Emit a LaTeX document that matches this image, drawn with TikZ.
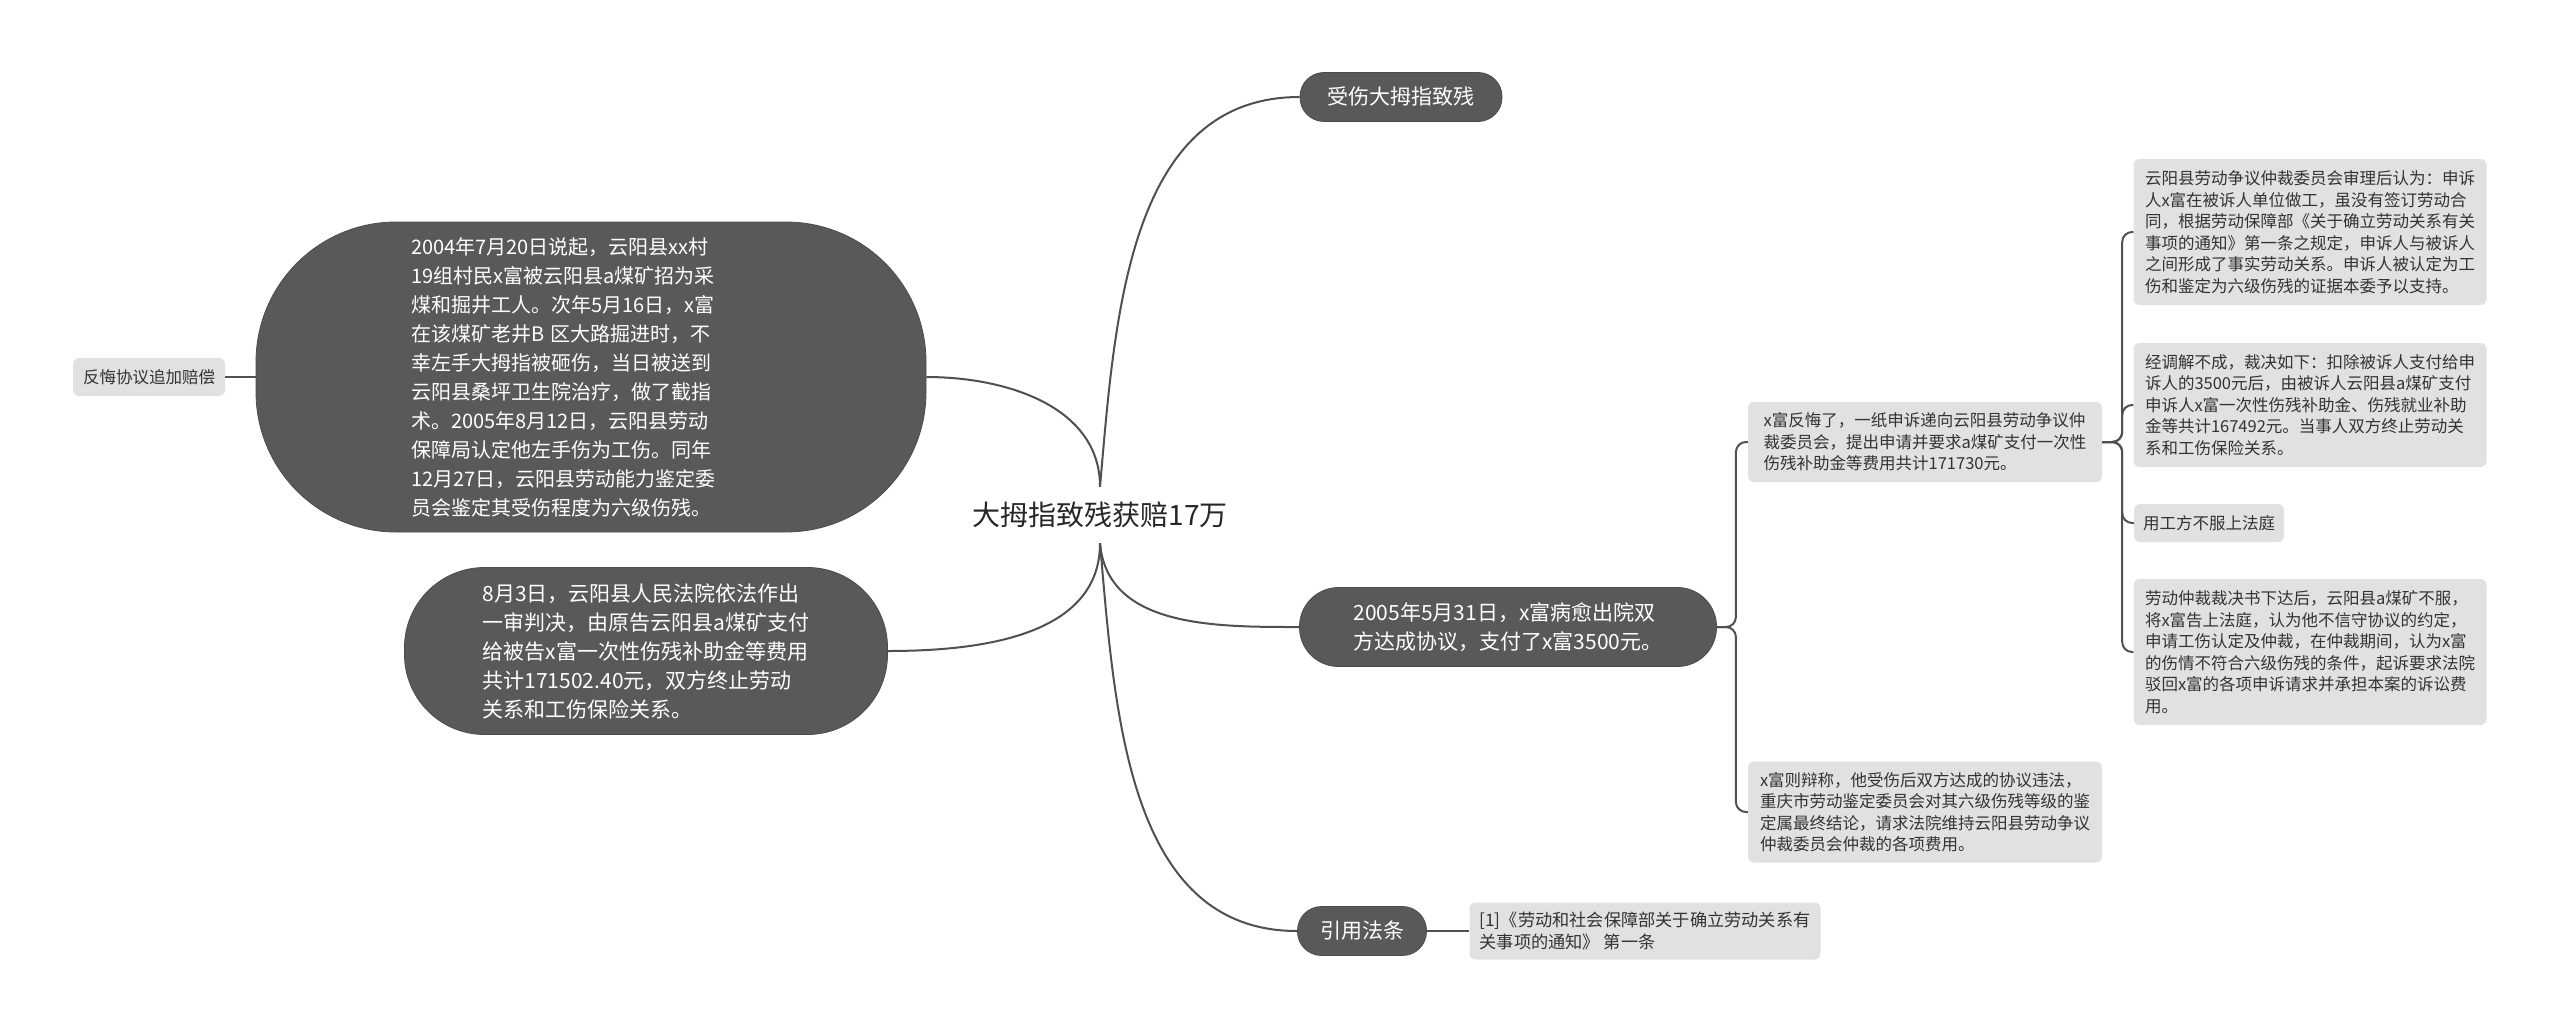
\documentclass[tikz,border=0pt]{standalone}
\usepackage{fontspec}
\setmainfont{Noto Sans CJK SC}
\usepackage{xcolor}
\usepackage{tikz}
\definecolor{darknode}{HTML}{595959}
\definecolor{leafgray}{HTML}{E1E1E1}
\definecolor{linegray}{HTML}{505050}
\definecolor{leaftext}{HTML}{333333}

\begin{document}
\begin{tikzpicture}[
  x=1pt, y=1pt,
  topic/.style={rectangle, inner sep=0pt, minimum height=56pt, text=black!85,
                font=\fontsize{28}{34}\selectfont},
  dark/.style={rectangle, fill=darknode, draw=darknode!85!black, line width=0.8pt,
               text=white, align=left, inner sep=0pt, font=\fontsize{21}{29}\selectfont},
  leaf/.style={rectangle, rounded corners=6pt, fill=leafgray, text=leaftext,
               align=left, inner sep=0pt, font=\fontsize{16.5}{21.5}\selectfont},
  link/.style={draw=linegray, line width=2pt},
  fork/.style={link, rounded corners=10pt}
]
\useasboundingbox (0,0) rectangle (2560,-1034);

% Central topic
\node[topic] (root) at (1100,-515) {大拇指致残获赔17万};

% Left branch
\node[dark, rounded corners=140pt, minimum width=670pt, minimum height=310pt,
      text width=360pt, font=\fontsize{20}{29}\selectfont] (story) at (591,-377)
  {2004年7月20日说起，云阳县xx村\\19组村民x富被云阳县a煤矿招为采\\煤和掘井工人。次年5月16日，x富\\在该煤矿老井B 区大路掘进时，不\\幸左手大拇指被砸伤，当日被送到\\云阳县桑坪卫生院治疗，做了截指\\术。2005年8月12日，云阳县劳动\\保障局认定他左手伤为工伤。同年\\12月27日，云阳县劳动能力鉴定委\\员会鉴定其受伤程度为六级伤残。};
\node[leaf, minimum width=152pt, minimum height=38pt] (regret) at (149,-377) {反悔协议追加赔偿};
\node[dark, rounded corners=80pt, minimum width=483pt, minimum height=167pt] (court) at (646,-651)
  {8月3日，云阳县人民法院依法作出\\一审判决，由原告云阳县a煤矿支付\\给被告x富一次性伤残补助金等费用\\共计171502.40元，双方终止劳动\\关系和工伤保险关系。};

% Right branch
\node[dark, rounded corners=24pt, minimum width=202pt, minimum height=49pt] (hurt) at (1401,-97) {受伤大拇指致残};
\node[dark, rounded corners=39pt, minimum width=417pt, minimum height=79pt] (deal) at (1508,-627)
  {2005年5月31日，x富病愈出院双\\方达成协议，支付了x富3500元。};
\node[dark, rounded corners=24pt, minimum width=129pt, minimum height=49pt] (law) at (1362,-931) {引用法条};
\node[leaf, minimum width=351pt, minimum height=57pt, font=\fontsize{17.2}{22}\selectfont] (cite) at (1645,-931)
  {[1]《劳动和社会保障部关于确立劳动关系有\\关事项的通知》 第一条};

% Second level under the agreement
\node[leaf, minimum width=354pt, minimum height=80pt] (appeal) at (1925,-442)
  {x富反悔了，一纸申诉递向云阳县劳动争议仲\\裁委员会，提出申请并要求a煤矿支付一次性\\伤残补助金等费用共计171730元。};
\node[leaf, minimum width=354pt, minimum height=101pt] (defend) at (1925,-812)
  {x富则辩称，他受伤后双方达成的协议违法，\\重庆市劳动鉴定委员会对其六级伤残等级的鉴\\定属最终结论，请求法院维持云阳县劳动争议\\仲裁委员会仲裁的各项费用。};

% Third level under the appeal
\node[leaf, minimum width=353pt, minimum height=146pt] (ruling) at (2310,-232)
  {云阳县劳动争议仲裁委员会审理后认为：申诉\\人x富在被诉人单位做工，虽没有签订劳动合\\同，根据劳动保障部《关于确立劳动关系有关\\事项的通知》第一条之规定，申诉人与被诉人\\之间形成了事实劳动关系。申诉人被认定为工\\伤和鉴定为六级伤残的证据本委予以支持。};
\node[leaf, minimum width=353pt, minimum height=124pt] (award) at (2310,-405)
  {经调解不成，裁决如下：扣除被诉人支付给申\\诉人的3500元后，由被诉人云阳县a煤矿支付\\申诉人x富一次性伤残补助金、伤残就业补助\\金等共计167492元。当事人双方终止劳动关\\系和工伤保险关系。};
\node[leaf, minimum width=150pt, minimum height=38pt] (refuse) at (2209,-523) {用工方不服上法庭};
\node[leaf, minimum width=353pt, minimum height=146pt] (sue) at (2310,-652)
  {劳动仲裁裁决书下达后，云阳县a煤矿不服，\\将x富告上法庭，认为他不信守协议的约定，\\申请工伤认定及仲裁，在仲裁期间，认为x富\\的伤情不符合六级伤残的条件，起诉要求法院\\驳回x富的各项申诉请求并承担本案的诉讼费\\用。};

% Curved links from the centre
\draw[link] (root.north) to[out=85, in=180] (hurt.west);
\draw[link] (story.east) to[out=0, in=90] (root.north);
\draw[link] (court.east) to[out=0, in=-90] (root.south);
\draw[link] (root.south) to[out=-85, in=180] (deal.west);
\draw[link] (root.south) to[out=-85, in=180] (law.west);

% Straight links
\draw[link] (regret.east) -- (story.west);
\draw[link] (law.east) -- (cite.west);

% Forks
\draw[fork] (deal.east) -- ++(19,0) |- (appeal.west);
\draw[fork] (deal.east) -- ++(19,0) |- (defend.west);
\draw[fork] (appeal.east) -- ++(20,0) |- (ruling.west);
\draw[fork] (appeal.east) -- ++(20,0) |- (award.west);
\draw[fork] (appeal.east) -- ++(20,0) |- (refuse.west);
\draw[fork] (appeal.east) -- ++(20,0) |- (sue.west);
\end{tikzpicture}
\end{document}
